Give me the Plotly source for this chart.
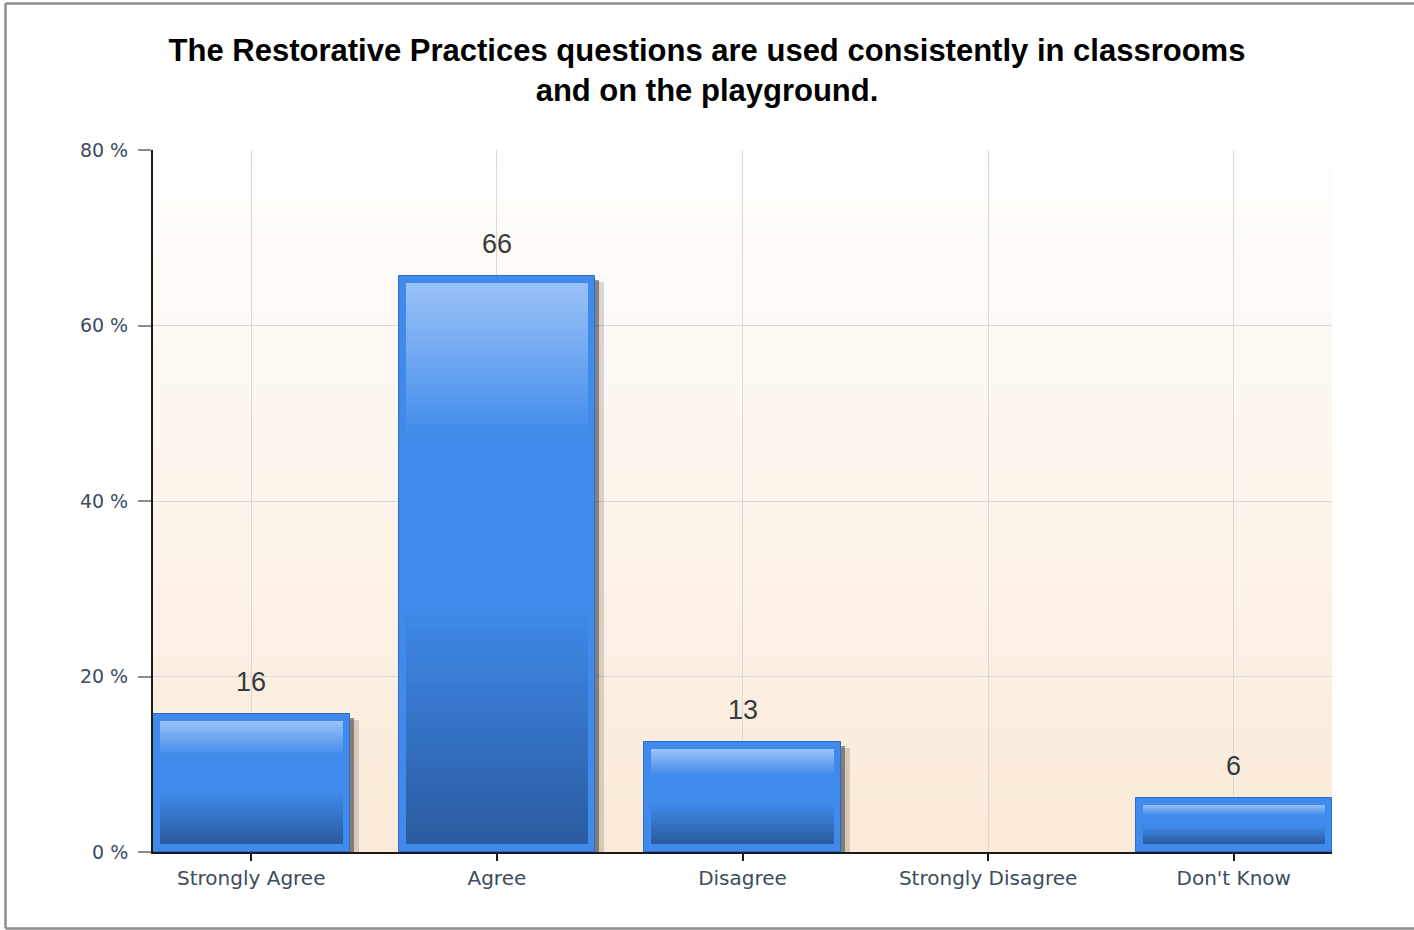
import plotly.graph_objects as go

# ---------------- data ----------------
categories = ["Strongly Agree", "Agree", "Disagree", "Strongly Disagree", "Don't Know"]
values = [15.7, 65.6, 12.5, 0.0, 6.2]
value_labels = ["16", "66", "13", "", "6"]
y_tick_vals = [0, 20, 40, 60, 80]
y_tick_text = ["0 %", "20 %", "40 %", "60 %", "80 %"]
title_text = ("The Restorative Practices questions are used consistently in classrooms"
              "<br>and on the playground.")

# ---------------- geometry helpers (styles only) ----------------
W, H = 1414, 930
ML, MT = 153, 150
PW, PH = 1179, 702
MR, MB = W - ML - PW, H - MT - PH
Y_MAX = 80
X_RANGE = [-0.4, 4.4]
PX_X = (X_RANGE[1] - X_RANGE[0]) / PW      # category units per px
PX_Y = Y_MAX / PH                           # value units per px

BAR_W = 0.8
INSET_X = 7 * PX_X
INSET_Y = 8 * PX_Y


def hex2rgb(h):
    h = h.lstrip('#')
    return tuple(int(h[i:i + 2], 16) for i in (0, 2, 4))


def lerp_color(stops, t):
    for (t0, c0), (t1, c1) in zip(stops[:-1], stops[1:]):
        if t0 <= t <= t1:
            f = 0 if t1 == t0 else (t - t0) / (t1 - t0)
            a, b = hex2rgb(c0), hex2rgb(c1)
            return 'rgb(%d,%d,%d)' % tuple(round(a[i] + (b[i] - a[i]) * f) for i in range(3))
    return stops[-1][1]


grad_stops = [(0.0, '#9ac2f8'), (0.28, '#3f8aea'), (0.58, '#3f8aea'), (1.0, '#2b5ba0')]

fig = go.Figure()

# shadows
for dx, dy, extra, col in [(7, 6, 2, 'rgba(0,0,0,0.14)'), (4, 4, 0, 'rgba(40,40,40,0.48)')]:
    fig.add_trace(go.Bar(
        x=categories,
        y=[max(0.0, v - dy * PX_Y) if v > 0 else 0 for v in values],
        base=[0] * len(values),
        width=BAR_W + extra * PX_X,
        offset=-BAR_W / 2 + dx * PX_X,
        marker=dict(color=col, line=dict(width=0)),
        hoverinfo='skip', showlegend=False))

# outer bar
fig.add_trace(go.Bar(
    x=categories, y=values,
    width=BAR_W, offset=-BAR_W / 2,
    marker=dict(color='#3f8aea',
                line=dict(color='#2f6cc6', width=[1 if v > 0 else 0 for v in values])),
    showlegend=False, name=''))

# inner gradient slices
N = 60
for k in range(N):
    t0, t1 = k / N, (k + 1) / N
    bases, heights = [], []
    for v in values:
        top = v - INSET_Y
        bot = INSET_Y
        h = top - bot
        if h <= 0:
            bases.append(0)
            heights.append(0)
        else:
            bases.append(top - t1 * h)
            ov = 0.12 if k < N - 1 else 0
            heights.append((t1 - t0) * h + ov)
    fig.add_trace(go.Bar(
        x=categories, y=heights, base=bases,
        width=BAR_W - 2 * INSET_X, offset=-BAR_W / 2 + INSET_X,
        marker=dict(color=lerp_color(grad_stops, (t0 + t1) / 2), line=dict(width=0)),
        hoverinfo='skip', showlegend=False))

# value labels
for c, v, lab in zip(categories, values, value_labels):
    if lab:
        fig.add_annotation(x=c, y=v, text=lab, showarrow=False, yanchor='middle',
                           yshift=32, font=dict(family='Liberation Sans, Arial', size=27,
                                                color='#3a3a3a'))

# background gradient for the plot area
shapes = []
NB = 40
top_c, bot_c = '#fffefd', '#faead8'
for i in range(NB):
    y0, y1 = i / NB, (i + 1) / NB
    col = lerp_color([(0, bot_c), (1, top_c)], (y0 + y1) / 2)
    shapes.append(dict(type='rect', xref='paper', yref='paper', x0=0, x1=1, y0=y0, y1=y1 + 0.002,
                       fillcolor=col, line=dict(width=0), layer='below'))


# outer frame (left, top, bottom) at reference pixel positions
def px_x(p):
    return (p - ML) / PW


def px_y(p):
    return (MT + PH - p) / PH


fx0, fx1 = px_x(5.5), px_x(1440)
fy_top, fy_bot = px_y(3.5), px_y(928.5)
for (x0, y0, x1, y1) in [(fx0, fy_bot, fx0, fy_top), (fx0, fy_top, fx1, fy_top), (fx0, fy_bot, fx1, fy_bot)]:
    shapes.append(dict(type='line', xref='paper', yref='paper', x0=x0, y0=y0, x1=x1, y1=y1,
                       line=dict(color='#8c8c8c', width=2.5), layer='above'))

fig.update_layout(
    width=W, height=H,
    margin=dict(l=ML, r=MR, t=MT, b=MB, pad=0),
    paper_bgcolor='white', plot_bgcolor='#fdf4ea',
    barmode='overlay', bargap=0,
    shapes=shapes,
    title=dict(text=title_text, x=0.5, xanchor='center', y=1 - 61 / H, yanchor='middle',
               yref='container',
               font=dict(family='Liberation Sans, Arial', size=31, color='#000000', weight='bold')),
    xaxis=dict(range=X_RANGE, showgrid=True, gridcolor='#d8d8d8', gridwidth=1,
               showline=True, linecolor='#1a1a1a', linewidth=2,
               ticks='outside', ticklen=7, tickcolor='#1a1a1a', tickwidth=2,
               tickfont=dict(family='DejaVu Sans', size=20, color='#3d4c5c'),
               ticklabelstandoff=0, zeroline=False),
    yaxis=dict(range=[0, Y_MAX], tickvals=y_tick_vals, ticktext=y_tick_text,
               showgrid=True, gridcolor='#d8d8d8', gridwidth=1,
               showline=True, linecolor='#1a1a1a', linewidth=2,
               ticks='outside', ticklen=13, tickcolor='#8c8c8c', tickwidth=1.5,
               tickfont=dict(family='DejaVu Sans', size=19, color='#3d4c5c'),
               ticklabelstandoff=6, zeroline=False),
)

fig.write_html("out.html",
               config={'displayModeBar': False},
               post_script="document.body.style.margin='0';document.body.style.overflow='hidden';")
